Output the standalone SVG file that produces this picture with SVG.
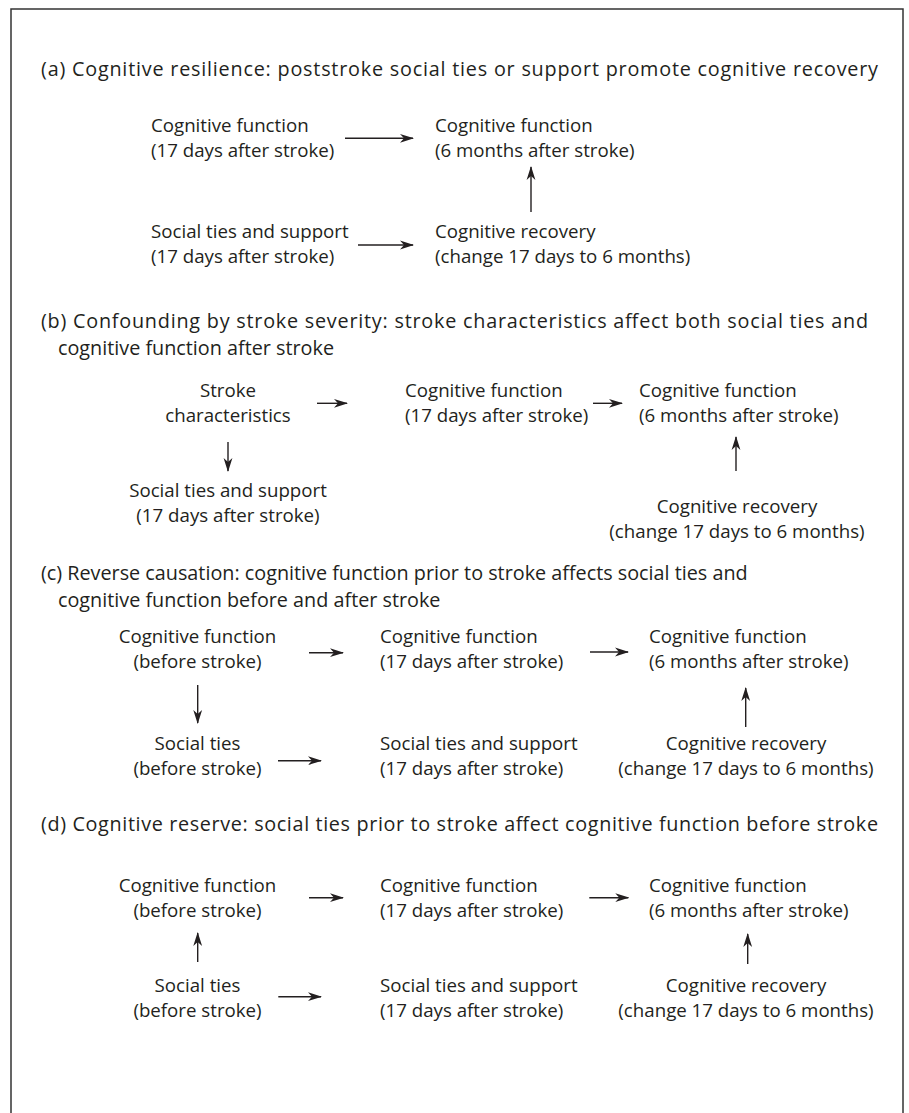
<svg xmlns="http://www.w3.org/2000/svg" width="909" height="1113" viewBox="0 0 909 1113">
<style>
text{font-family:"Open Sans","Noto Sans","Liberation Sans",sans-serif;font-size:18.7px;fill:#231f20}
.t{font-size:19.8px}
.m{text-anchor:middle}
.c{stroke:#231f20;stroke-width:1.4;fill:none;marker-end:url(#ah)}
</style>
<defs>
<marker id="ah" viewBox="0 0 14 10" refX="13" refY="5" markerWidth="14" markerHeight="10" orient="auto" markerUnits="userSpaceOnUse">
<path d="M0,0.6 L14,5 L0,9.4 L4,5 Z" fill="#231f20"/>
</marker>
</defs>
<rect x="11" y="9" width="892" height="1120" fill="#fff" stroke="#333" stroke-width="1.5"/>
<g id="titles">
<text class="t" x="41" y="76" textLength="837" lengthAdjust="spacing">(a) Cognitive resilience: poststroke social ties or support promote cognitive recovery</text>
<text class="t" x="41" y="328" textLength="827" lengthAdjust="spacing">(b) Confounding by stroke severity: stroke characteristics affect both social ties and</text>
<text class="t" x="58" y="355">cognitive function after stroke</text>
<text class="t" x="41" y="580">(c) Reverse causation: cognitive function prior to stroke affects social ties and</text>
<text class="t" x="58" y="607">cognitive function before and after stroke</text>
<text class="t" x="41" y="831" textLength="837" lengthAdjust="spacing">(d) Cognitive reserve: social ties prior to stroke affect cognitive function before stroke</text>
</g>
<g id="a-cf17"><text x="151" y="132">Cognitive function</text><text x="151" y="157">(17 days after stroke)</text></g>
<g id="a-cf6"><text x="435" y="132">Cognitive function</text><text x="435" y="157">(6 months after stroke)</text></g>
<g id="a-st17"><text x="151" y="238">Social ties and support</text><text x="151" y="263">(17 days after stroke)</text></g>
<g id="a-cr"><text x="435" y="238">Cognitive recovery</text><text x="435" y="263">(change 17 days to 6 months)</text></g>
<g id="b-sc"><text class="m" x="228" y="397">Stroke</text><text class="m" x="228" y="422">characteristics</text></g>
<g id="b-cf17"><text x="405" y="397">Cognitive function</text><text x="405" y="422">(17 days after stroke)</text></g>
<g id="b-cf6"><text x="639" y="397">Cognitive function</text><text x="639" y="422">(6 months after stroke)</text></g>
<g id="b-st17"><text class="m" x="228" y="497">Social ties and support</text><text class="m" x="228" y="522">(17 days after stroke)</text></g>
<g id="b-cr"><text class="m" x="737" y="513">Cognitive recovery</text><text class="m" x="737" y="538">(change 17 days to 6 months)</text></g>
<g id="c-cfb"><text class="m" x="197.5" y="643">Cognitive function</text><text class="m" x="197.5" y="668">(before stroke)</text></g>
<g id="c-cf17"><text x="380" y="643">Cognitive function</text><text x="380" y="668">(17 days after stroke)</text></g>
<g id="c-cf6"><text x="649" y="643">Cognitive function</text><text x="649" y="668">(6 months after stroke)</text></g>
<g id="c-stb"><text class="m" x="197.5" y="750">Social ties</text><text class="m" x="197.5" y="775">(before stroke)</text></g>
<g id="c-st17"><text x="380" y="750">Social ties and support</text><text x="380" y="775">(17 days after stroke)</text></g>
<g id="c-cr"><text class="m" x="746" y="750">Cognitive recovery</text><text class="m" x="746" y="775">(change 17 days to 6 months)</text></g>
<g id="d-cfb"><text class="m" x="197.5" y="891.5">Cognitive function</text><text class="m" x="197.5" y="916.5">(before stroke)</text></g>
<g id="d-cf17"><text x="380" y="891.5">Cognitive function</text><text x="380" y="916.5">(17 days after stroke)</text></g>
<g id="d-cf6"><text x="649" y="891.5">Cognitive function</text><text x="649" y="916.5">(6 months after stroke)</text></g>
<g id="d-stb"><text class="m" x="197.5" y="991.5">Social ties</text><text class="m" x="197.5" y="1016.5">(before stroke)</text></g>
<g id="d-st17"><text x="380" y="991.5">Social ties and support</text><text x="380" y="1016.5">(17 days after stroke)</text></g>
<g id="d-cr"><text class="m" x="746" y="991.5">Cognitive recovery</text><text class="m" x="746" y="1016.5">(change 17 days to 6 months)</text></g>
<g id="connectors">
<line class="c" x1="345" y1="138.3" x2="413" y2="138.3"/>
<line class="c" x1="358" y1="245" x2="413" y2="245"/>
<line class="c" x1="531" y1="212" x2="531" y2="167"/>
<line class="c" x1="317" y1="403.3" x2="347" y2="403.3"/>
<line class="c" x1="593" y1="403.3" x2="622" y2="403.3"/>
<line class="c" x1="228" y1="442" x2="228" y2="471"/>
<line class="c" x1="736" y1="471" x2="736" y2="437"/>
<line class="c" x1="309" y1="652.7" x2="343" y2="652.7"/>
<line class="c" x1="590" y1="652" x2="628" y2="652"/>
<line class="c" x1="197.7" y1="685" x2="197.7" y2="723"/>
<line class="c" x1="745.7" y1="727" x2="745.7" y2="688"/>
<line class="c" x1="278" y1="760.7" x2="321" y2="760.7"/>
<line class="c" x1="309" y1="897.7" x2="343" y2="897.7"/>
<line class="c" x1="589.3" y1="897.7" x2="628.3" y2="897.7"/>
<line class="c" x1="197.7" y1="962" x2="197.7" y2="933"/>
<line class="c" x1="747.7" y1="964" x2="747.7" y2="934"/>
<line class="c" x1="278.3" y1="996.7" x2="321" y2="996.7"/>
</g>
</svg>
